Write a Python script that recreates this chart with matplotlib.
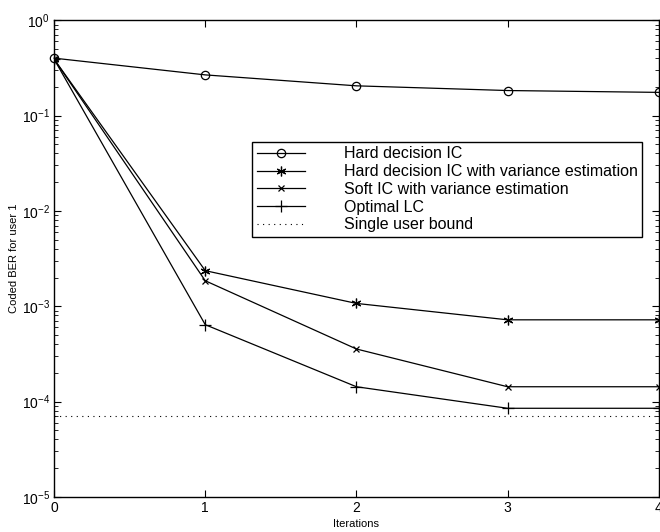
import numpy as np
import matplotlib
matplotlib.use('Agg')
import matplotlib.pyplot as plt

plt.rcParams['font.family'] = ['Liberation Sans', 'DejaVu Sans']
plt.rcParams['mathtext.default'] = 'regular'

iterations = [0, 1, 2, 3, 4]
hard_ic = [0.40, 0.267, 0.205, 0.183, 0.175]
hard_ic_var = [0.39, 2.36e-3, 1.07e-3, 7.2e-4, 7.2e-4]
soft_ic_var = [0.39, 1.85e-3, 3.56e-4, 1.43e-4, 1.43e-4]
optimal_lc = [0.39, 6.4e-4, 1.43e-4, 8.5e-5, 8.5e-5]
single_user_bound = 7.1e-5

fig = plt.figure(figsize=(6.6, 5.32), dpi=100)
ax = fig.add_axes([0.082, 0.066, 0.916, 0.896])

lw = 0.9
ax.semilogy(iterations, hard_ic, color='black', lw=lw, marker='o', ms=6,
            mfc='none', mew=0.9, label='Hard decision IC', clip_on=False)
ax.semilogy(iterations, hard_ic_var, color='black', lw=lw, marker=(6, 2, 0), ms=7,
            mew=0.9, label='Hard decision IC with variance estimation')
ax.semilogy(iterations, soft_ic_var, color='black', lw=lw, marker='x', ms=5,
            mew=0.9, label='Soft IC with variance estimation')
ax.semilogy(iterations, optimal_lc, color='black', lw=lw, marker='+', ms=8,
            mew=0.9, label='Optimal LC')
ax.axhline(single_user_bound, color='black', lw=0.8, ls=(0, (1, 4)),
           label='Single user bound')

ax.set_xlim(0, 4)
ax.set_ylim(1e-5, 1)
ax.set_xticks(iterations)
ax.tick_params(which='both', direction='in', top=True, right=True,
               labelsize=10, pad=3)
ax.tick_params(which='major', length=5)
ax.tick_params(which='minor', length=3)
for s in ax.spines.values():
    s.set_linewidth(1.0)

ax.set_xlabel('Iterations', fontsize=8, labelpad=3)
ax.set_ylabel('Coded BER for user 1', fontsize=8, labelpad=2)

leg = ax.legend(loc='lower left', bbox_to_anchor=(0.327, 0.545), fontsize=11.5,
                fancybox=False, framealpha=1, edgecolor='black',
                handlelength=3.0, handletextpad=2.45, labelspacing=0.17,
                borderpad=0.3, borderaxespad=0)
leg.get_frame().set_linewidth(1.0)

plt.savefig('out.png', dpi=100)
